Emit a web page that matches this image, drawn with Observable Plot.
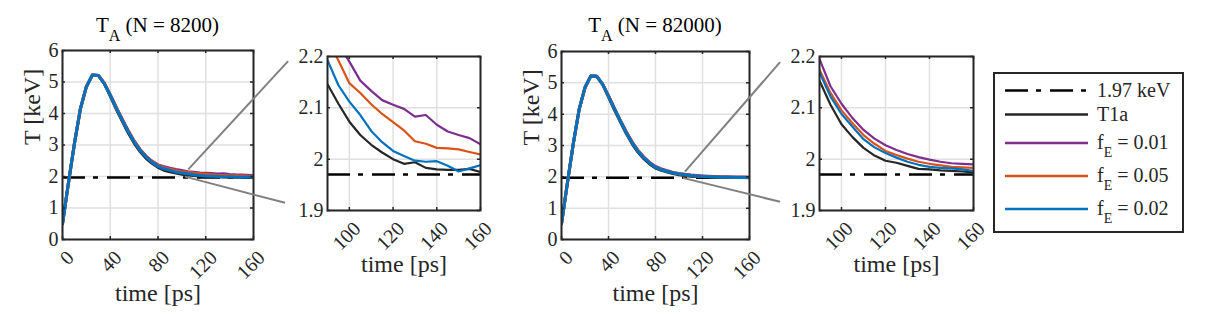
<!DOCTYPE html>
<html><head><meta charset="utf-8">
<script src="https://cdn.jsdelivr.net/npm/d3@7"></script>
<script src="https://cdn.jsdelivr.net/npm/@observablehq/plot@0.6"></script>
<style>
body{margin:0;background:#fff;}
#fig{position:relative;width:1214px;height:314px;overflow:hidden;font-family:"Liberation Serif","DejaVu Serif",serif;}
#fig svg{position:absolute;top:0;}
#fig svg text{font-family:"Liberation Serif","DejaVu Serif",serif !important;font-weight:normal !important;}
</style></head><body><div id="fig"></div>
<script>
// ---- data ----
const time = [0,5,10,15,20,25,30,35,40,45,50,55,60,65,70,75,80,85,90,95,100,105,110,115,120,125,130,135,140,145,150,155,160];
const refT = 1.97;
const series = ["T1a","fE = 0.01","fE = 0.05","fE = 0.02"];
const colors = ["#262626","#7E2F8E","#D95319","#0072BD"];

// N = 8200
const t1a_8200 = [0.5,1.8,3.05,4.15,4.85,5.22,5.21,4.95,4.55,4.14,3.76,3.39,3.06,2.79,2.58,2.42,2.29,2.2,2.146,2.108,2.073,2.047,2.028,2.013,2.000,1.991,1.994,1.983,1.980,1.979,1.979,1.981,1.975];
const f01_8200 = [0.5,1.8,3.05,4.15,4.85,5.22,5.21,4.96,4.6,4.2,3.82,3.46,3.13,2.86,2.65,2.49,2.37,2.31,2.265,2.225,2.19,2.153,2.133,2.115,2.106,2.098,2.083,2.086,2.067,2.054,2.047,2.041,2.029];
const f05_8200 = [0.5,1.8,3.05,4.15,4.85,5.22,5.21,4.96,4.59,4.19,3.81,3.45,3.12,2.85,2.64,2.47,2.35,2.28,2.235,2.192,2.148,2.129,2.107,2.088,2.072,2.056,2.035,2.030,2.022,2.021,2.019,2.014,2.009];
const f02_8200 = [0.5,1.8,3.05,4.15,4.85,5.22,5.21,4.95,4.58,4.18,3.8,3.43,3.1,2.83,2.62,2.45,2.32,2.245,2.193,2.144,2.112,2.086,2.055,2.033,2.016,2.006,1.997,1.995,1.996,1.987,1.976,1.982,1.988];

// N = 82000
const t1a_82000 = [0.5,1.8,3.05,4.15,4.85,5.22,5.21,4.95,4.55,4.14,3.76,3.39,3.06,2.79,2.58,2.41,2.28,2.205,2.153,2.106,2.068,2.043,2.022,2.007,1.997,1.993,1.987,1.981,1.980,1.978,1.977,1.976,1.974];
const f01_82000 = [0.5,1.8,3.05,4.15,4.85,5.22,5.21,4.96,4.59,4.19,3.81,3.45,3.12,2.85,2.63,2.46,2.33,2.25,2.195,2.142,2.108,2.080,2.057,2.040,2.027,2.018,2.010,2.004,1.999,1.995,1.992,1.991,1.990];
const f05_82000 = [0.5,1.8,3.05,4.15,4.85,5.22,5.21,4.95,4.58,4.18,3.8,3.44,3.11,2.84,2.62,2.45,2.31,2.23,2.174,2.129,2.095,2.070,2.047,2.030,2.016,2.008,2.001,1.995,1.991,1.988,1.985,1.984,1.983];
const f02_82000 = [0.5,1.8,3.05,4.15,4.85,5.22,5.21,4.95,4.57,4.17,3.79,3.42,3.09,2.82,2.61,2.44,2.30,2.225,2.169,2.122,2.088,2.063,2.039,2.023,2.012,2.003,1.995,1.989,1.985,1.983,1.982,1.980,1.977];

const mainXTicks = [0,40,80,120,160];
const mainYTicks = [0,1,2,3,4,5,6];
const zoomXTicks = [100,120,140,160];
const zoomYTicks = [1.9,2,2.1,2.2];
const titles = ["(N = 8200)","(N = 82000)"];
const xLabel = "time [ps]";
const yLabel = "T [keV]";
const legendRows = [
  {main:"1.97 keV", sub:"", rest:"", color:"#000", dash:true},
  {main:"T1a", sub:"", rest:"", color:colors[0]},
  {main:"f", sub:"E", rest:" = 0.01", color:colors[1]},
  {main:"f", sub:"E", rest:" = 0.05", color:colors[2]},
  {main:"f", sub:"E", rest:" = 0.02", color:colors[3]}
];

function table(arrs){
  const rows=[];
  arrs.forEach((a,i)=>a.forEach((v,j)=>rows.push({t:time[j],T:v,s:series[i]})));
  return rows;
}
const data8200 = table([t1a_8200,f01_8200,f05_8200,f02_8200]);
const data82000 = table([t1a_82000,f01_82000,f05_82000,f02_82000]);

const FONT = "Liberation Serif";
const INK = "#262626";
const DASH = "23,8,5,9";

function panel(o){
  const H = 314;
  const ih = H - o.mt - o.mb, iw = o.width - o.ml - o.mr;
  const tk = 3;
  const marks = [
    Plot.ruleX(o.xTicks, {x:d=>d, stroke:"#e0e0e0", strokeWidth:1.5}),
    Plot.ruleY(o.yTicks, {y:d=>d, stroke:"#e0e0e0", strokeWidth:1.5}),
    Plot.ruleY([refT], {y:d=>d, stroke:"#000", strokeWidth:2.5, strokeDasharray:DASH, clip:true}),
    Plot.line(o.data, {x:"t", y:"T", z:"s", stroke:"s", strokeWidth:o.sw, strokeLinejoin:"round", clip:true}),
    Plot.ruleX(o.xTicks, {x:d=>d, stroke:INK, strokeWidth:1.5, strokeDasharray:`${tk},${ih-2*tk},${tk}`}),
    Plot.ruleY(o.yTicks, {y:d=>d, stroke:INK, strokeWidth:1.5, strokeDasharray:`${tk},${iw-2*tk},${tk}`}),
    Plot.frame({stroke:INK, strokeWidth:2}),
    Plot.text(o.yTicks, {y:d=>d, frameAnchor:"left", textAnchor:"end", dx:-4, text:d=>String(d), fontSize:20, fontFamily:FONT, fill:INK}),
    Plot.text(o.xTicks, {x:d=>d, frameAnchor:"bottom", textAnchor:"end", lineAnchor:"middle", rotate:-45, dx:8, dy:15, text:d=>String(d), fontSize:20, fontFamily:FONT, fill:INK}),
    Plot.text([xLabel], {frameAnchor:"bottom", dy:61, text:d=>d, fontSize:24, fontFamily:FONT, fill:INK})
  ];
  if (o.ylab) marks.push(Plot.text([yLabel], {frameAnchor:"left", dx:-30, rotate:-90, text:d=>d, fontSize:24, fontFamily:FONT, fill:INK}));
  const p = Plot.plot({
    width:o.width, height:H, marginLeft:o.ml, marginRight:o.mr, marginTop:o.mt, marginBottom:o.mb,
    x:{domain:o.xDomain, axis:null},
    y:{domain:o.yDomain, axis:null},
    color:{domain:series, range:colors},
    style:{fontFamily:FONT, background:"transparent", overflow:"visible"},
    marks
  });
  p.style.left = o.left + "px";
  document.getElementById("fig").appendChild(p);
  p._left = o.left;
  return p;
}

const p1 = panel({data:data8200, xDomain:[0,160], yDomain:[0,6], xTicks:mainXTicks, yTicks:mainYTicks, left:0, width:265, ml:62, mr:12, mt:50, mb:75, sw:3, ylab:true});
const p2 = panel({data:data8200, xDomain:[90,160], yDomain:[1.9,2.2], xTicks:zoomXTicks, yTicks:zoomYTicks, left:265, width:235, ml:62, mr:20, mt:56, mb:104, sw:2.2});
const p3 = panel({data:data82000, xDomain:[0,160], yDomain:[0,6], xTicks:mainXTicks, yTicks:mainYTicks, left:500, width:270, ml:61, mr:21, mt:51, mb:75, sw:3, ylab:true});
const p4 = panel({data:data82000, xDomain:[90,160], yDomain:[1.9,2.2], xTicks:zoomXTicks, yTicks:zoomYTicks, left:770, width:220, ml:49, mr:17, mt:56, mb:104, sw:2.2});

// ---- overlay: titles, connectors, legend ----
const svg = d3.select("#fig").append("svg").attr("width",1214).attr("height",314)
  .style("left","0px").attr("font-family",FONT).style("overflow","visible");

function px(p, x, y){ return [p._left + p.scale("x").apply(x), p.scale("y").apply(y)]; }

// connectors (data coords in main panel -> inset panel)
const connectors = [
  {from:p1, to:p2, a:[[105.8,2.21],[103,1.98]], b:[[72.2,2.19],[70.8,1.914]]},
  {from:p3, to:p4, a:[[105.5,2.15],[103.6,1.95]], b:[[72.3,2.188],[72.3,1.916]]}
];
connectors.forEach(c=>{
  for (let i=0;i<2;i++){
    const A = px(c.from, ...c.a[i]), B = px(c.to, ...c.b[i]);
    svg.append("line").attr("x1",A[0]).attr("y1",A[1]).attr("x2",B[0]).attr("y2",B[1])
      .attr("stroke","#808080").attr("stroke-width",2);
  }
});

// titles
[[p1,titles[0]],[p3,titles[1]]].forEach(([p,t])=>{
  const x0 = p._left + (p.scale("x").range[0] + p.scale("x").range[1])/2;
  const tx = svg.append("text").attr("x",x0).attr("y",32).attr("text-anchor","middle")
    .attr("font-size",21).attr("font-family",FONT).attr("fill","#000");
  tx.append("tspan").text("T");
  tx.append("tspan").attr("dy",9).attr("font-size",16).text("A");
  tx.append("tspan").attr("dy",-9).text(" " + t);
});

// legend
const lg = svg.append("g");
lg.append("rect").attr("x",994).attr("y",73).attr("width",189).attr("height",159)
  .attr("fill","#fff").attr("stroke",INK).attr("stroke-width",2);
let cy = 78.5;
legendRows.forEach(r=>{
  const h = r.sub ? 33 : 24;
  const yc = cy + h/2; cy += h;
  lg.append("line").attr("x1",1005).attr("x2",1088).attr("y1",yc).attr("y2",yc)
    .attr("stroke",r.color).attr("stroke-width",2.5).attr("stroke-dasharray",r.dash?DASH:null);
  const t = lg.append("text").attr("x",1097).attr("y",yc).attr("dy","0.32em").attr("font-size",20)
    .attr("font-family",FONT).attr("fill",INK);
  t.append("tspan").text(r.main);
  if (r.sub){
    t.append("tspan").attr("dy",8).attr("font-size",14).text(r.sub);
    t.append("tspan").attr("dy",-8).text(r.rest);
  }
});
</script></body></html>
